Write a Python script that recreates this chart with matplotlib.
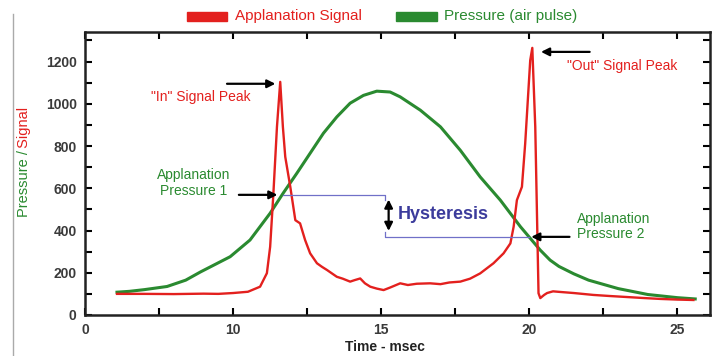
import matplotlib
matplotlib.use("Agg")
import matplotlib.pyplot as plt
from matplotlib.patches import Rectangle
from matplotlib.lines import Line2D

plt.rcParams['font.family'] = ['Liberation Sans', 'DejaVu Sans']

# Applanation signal (red)
signal_t = [6.08, 7, 8, 9, 9.5, 10, 10.5, 10.91, 11.14, 11.25, 11.36, 11.48, 11.59,
            11.68, 11.76, 11.93, 12.1, 12.26, 12.43, 12.6, 12.83, 13.0, 13.17, 13.5,
            13.7, 13.95, 14.1, 14.29, 14.45, 14.63, 14.85, 15.08, 15.3, 15.64, 15.9,
            16.2, 16.65, 17.0, 17.3, 17.67, 18.0, 18.34, 18.79, 19.13, 19.36, 19.47,
            19.58, 19.75, 19.86, 20.03, 20.1, 20.2, 20.31, 20.37, 20.5, 20.6, 20.8,
            21.05, 21.5, 22.16, 22.7, 23.3, 23.9, 24.43, 25.0, 25.54]
signal_v = [100, 100, 99, 101, 100, 104, 110, 134, 198, 323, 577, 891, 1104,
            891, 749, 607, 449, 434, 355, 292, 245, 228, 213, 181,
            172, 158, 165, 173, 150, 134, 125, 118, 130, 150, 142,
            148, 150, 146, 154, 158, 172, 197, 245, 292, 339, 418,
            544, 607, 812, 1206, 1265, 891, 103, 80, 95, 104, 112,
            109, 104, 95, 90, 85, 80, 76, 73, 71]

# Air pulse pressure (green)
pressure_t = [6.08, 6.5, 7, 7.77, 8.4, 8.9, 9.4, 9.9, 10.57, 11.25, 11.69, 12.15,
              12.6, 13.05, 13.5, 13.95, 14.4, 14.85, 15.3, 15.64, 16.32, 17.0,
              17.67, 18.34, 19.02, 19.7, 20.37, 20.7, 21.0, 21.5, 22.0, 23.0, 24.0,
              25.0, 25.6]
pressure_v = [108, 112, 120, 135, 165, 204, 240, 276, 355, 482, 577, 671,
              766, 861, 938, 1003, 1040, 1060, 1056, 1033, 970, 891,
              780, 654, 544, 418, 307, 260, 230, 195, 165, 125, 97,
              82, 76]

xtick_pos = [5, 7.5, 10, 12.5, 15, 17.5, 20, 22.5, 25]
xtick_labels = ["0", "", "10", "", "15", "", "20", "", "25"]
ytick_pos = list(range(0, 1400, 100))
ytick_labels = [str(v) if v % 200 == 0 else "" for v in ytick_pos]

red = "#e3201e"
green = "#2a8a30"
blue = "#3c3c9c"
txt = "#3a3a3a"

fig = plt.figure(figsize=(7.18, 3.56), dpi=100)
ax = fig.add_axes([0.1184, 0.1152, 0.8705, 0.7948])

ax.plot(pressure_t, pressure_v, color=green, lw=2.2)
ax.plot(signal_t, signal_v, color=red, lw=1.7)

ax.set_xlim(5, 26.1)
ax.set_ylim(0, 1340)
ax.set_xticks(xtick_pos)
ax.set_xticklabels(xtick_labels, fontweight='bold')
ax.set_yticks(ytick_pos)
ax.set_yticklabels(ytick_labels, fontweight='bold')
ax.tick_params(direction='in', length=5, width=1.5, top=True, right=True,
               labelsize=10, labelcolor=txt, pad=6)
for s in ax.spines.values():
    s.set_linewidth(1.8)
    s.set_color("#222222")

# hysteresis guides
ax.plot([11.7, 15.14, 15.14], [569, 569, 545], color="#7070c8", lw=0.9)
ax.plot([15.14, 15.14, 20.0], [395, 370, 370], color="#7070c8", lw=0.9)
ax.annotate("", xy=(15.25, 385), xytext=(15.25, 560),
            arrowprops=dict(arrowstyle="<|-|>", color="black", lw=1.6,
                            mutation_scale=12))
ax.text(15.55, 474, "Hysteresis", color=blue, fontsize=13, fontweight='bold',
        va='center', ha='left')

arrow = dict(arrowstyle="-|>", color="black", lw=1.6, mutation_scale=12)
ax.annotate("", xy=(11.59, 569), xytext=(10.1, 569), arrowprops=arrow)
ax.text(8.68, 625, "Applanation\nPressure 1", color=green, fontsize=10,
        ha='center', va='center', linespacing=1.1)

ax.annotate("", xy=(19.97, 370), xytext=(21.45, 370), arrowprops=arrow)
ax.text(21.62, 417, "Applanation\nPressure 2", color=green, fontsize=10,
        ha='left', va='center', linespacing=1.1)

ax.annotate("", xy=(11.52, 1095), xytext=(9.7, 1095), arrowprops=arrow)
ax.text(8.92, 1033, '"In" Signal Peak', color=red, fontsize=10,
        ha='center', va='center')

ax.annotate("", xy=(20.3, 1246), xytext=(22.13, 1246), arrowprops=arrow)
ax.text(23.14, 1180, '"Out" Signal Peak', color=red, fontsize=10,
        ha='center', va='center')

# legend on top
fig.patches.append(Rectangle((187 / 718, 1 - 21 / 356), 40 / 718, 9 / 356,
                             transform=fig.transFigure, color=red))
fig.text(235 / 718, 1 - 16 / 356, "Applanation Signal", color=red, fontsize=11,
         va='center', ha='left')
fig.patches.append(Rectangle((396 / 718, 1 - 21 / 356), 41 / 718, 9 / 356,
                             transform=fig.transFigure, color=green))
fig.text(444 / 718, 1 - 16 / 356, "Pressure (air pulse)", color=green, fontsize=11,
         va='center', ha='left')

# two-colour y label
fig.text(24 / 718, 1 - 150 / 356, "Pressure /", color=green, fontsize=10.5,
         rotation=90, ha='center', va='top')
fig.text(24 / 718, 1 - 152 / 356, " Signal", color=red, fontsize=10.5,
         rotation=90, ha='center', va='bottom')

fig.text(385 / 718, 1 - 347 / 356, "Time - msec", color="#222222", fontsize=10,
         fontweight='bold', ha='center', va='center')

# grey border at the left of the picture
fig.lines.append(Line2D([13 / 718, 13 / 718], [0, 0.96], transform=fig.transFigure,
                        color="#aaaaaa", lw=1))

fig.savefig("out.png", dpi=100)
